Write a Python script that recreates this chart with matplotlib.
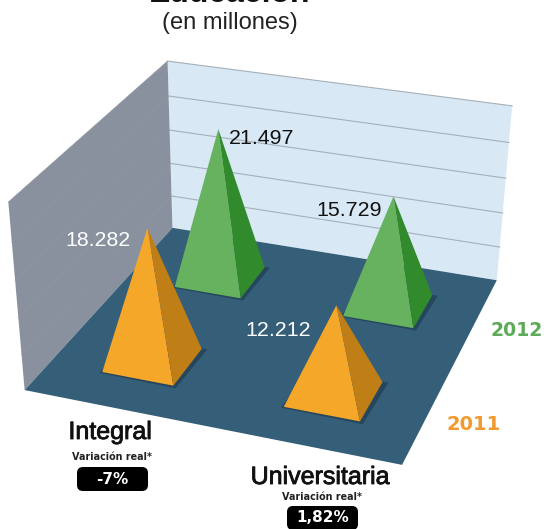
import numpy as np
import matplotlib
matplotlib.use('Agg')
import matplotlib.pyplot as plt
import matplotlib.patheffects as pe
from matplotlib.patches import Polygon, FancyBboxPatch

# datos
categorias = ['Integral', 'Universitaria']
anios = ['2011', '2012']
valores_2011 = [18.282, 12.212]
valores_2012 = [21.497, 15.729]
variacion = ['-7%', '1,82%']
ticks_eje = [5, 10, 15, 20]
tope_eje = 25

naranja, naranja_osc = '#F5A729', '#C07E17'
verde, verde_osc = '#66B25F', '#318A2C'

# correspondencia mundo (x, y, z) -> pixel de la imagen, para armar la camara
mundo = np.array([[0, 2, 0], [0, 0, 0], [2, 0, 0], [2, 2, 0],
                  [0, 2, tope_eje], [2, 2, tope_eje], [0, 0, tope_eje]], dtype=float)
pixel = np.array([[172, 228], [25, 390], [402, 465], [497, 280],
                  [168, 61], [512, 106], [8, 202]], dtype=float)


def camara(mundo, pixel):
    filas = []
    for (x, y, z), (u, v) in zip(mundo, pixel):
        filas.append([x, y, z, 1, 0, 0, 0, 0, -u * x, -u * y, -u * z, -u])
        filas.append([0, 0, 0, 0, x, y, z, 1, -v * x, -v * y, -v * z, -v])
    _, _, vt = np.linalg.svd(np.array(filas))
    return vt[-1].reshape(3, 4)


P = camara(mundo, pixel)


def proy(x, y, z=0):
    h = P @ np.array([x, y, z, 1.0])
    return h[0] / h[2], h[1] / h[2]


fig = plt.figure(figsize=(5.44, 5.29), dpi=100)
ax = fig.add_axes([0, 0, 1, 1])
ax.set_xlim(0, 544)
ax.set_ylim(529, 0)
ax.axis('off')


def poly(puntos, color, z=1):
    ax.add_patch(Polygon([proy(*p) for p in puntos], closed=True, facecolor=color,
                         edgecolor='none', zorder=z))


# paredes y piso
poly([(0, 2, 0), (2, 2, 0), (2, 2, tope_eje), (0, 2, tope_eje)], '#D8E8F5')
poly([(0, 0, 0), (0, 2, 0), (0, 2, tope_eje), (0, 0, tope_eje)], '#8A919E')
poly([(0, 0, 0), (2, 0, 0), (2, 2, 0), (0, 2, 0)], '#355F78', z=2)

for t in ticks_eje + [tope_eje]:
    x0, y0 = proy(0, 2, t)
    x1, y1 = proy(2, 2, t)
    ax.plot([x0, x1], [y0, y1], color='#A6B0B8', lw=0.8, zorder=1.5)
    x2, y2 = proy(0, 0, t)
    ax.plot([x2, x0], [y2, y0], color='#90969F', lw=0.5, zorder=1.5)


def piramide(cx, cy, alto, claro, oscuro, z, w=0.2):
    # sombra sobre el piso
    poly([(cx - w - 0.01, cy - w - 0.012, 0), (cx + w + 0.02, cy - w - 0.02, 0),
          (cx + w + 0.03, cy + w + 0.005, 0), (cx - w, cy + w, 0)], '#25465C', z=z - 0.5)
    tope = (cx, cy, alto)
    poly([(cx - w, cy - w, 0), (cx + w, cy - w, 0), tope], claro, z=z)
    poly([(cx + w, cy - w, 0), (cx + w, cy + w, 0), tope], oscuro, z=z)


# del fondo hacia el frente
piramide(0.5, 1.5, valores_2012[0], verde, verde_osc, 3)
piramide(1.5, 1.5, valores_2012[1], verde, verde_osc, 4)
piramide(0.5, 0.5, valores_2011[0], naranja, naranja_osc, 5)
piramide(1.5, 0.5, valores_2011[1], naranja, naranja_osc, 6)

sans = ['Liberation Sans', 'DejaVu Sans']


def num(v):
    return f'{v:.3f}'


# etiquetas de valores
ax.text(65, 241, num(valores_2011[0]), color='white', fontsize=15.4, family=sans, va='center', zorder=8)
ax.text(229, 138, num(valores_2012[0]), color='#111111', fontsize=15.4, family=sans, va='center', zorder=8)
ax.text(316, 211, num(valores_2012[1]), color='#111111', fontsize=15.4, family=sans, va='center', zorder=8)
ax.text(245, 331, num(valores_2011[1]), color='white', fontsize=15.4, family=sans, va='center', zorder=8)

# titulo, cortado arriba como en la imagen
ax.text(230, 2, 'Educación', color='#111111', fontsize=23, family=sans, weight='bold',
        ha='center', va='baseline', zorder=8)
ax.text(229.5, 23, '(en millones)', color='#222222', fontsize=17, family=sans,
        ha='center', va='center', zorder=8)

# anios
ax.text(491, 331, anios[1], color='#5DAA58', fontsize=13.6, family='DejaVu Sans', weight='bold', va='center')
ax.text(447, 425, anios[0], color='#F09A30', fontsize=14, family='DejaVu Sans', weight='bold', va='center')

# categorias con su variacion
centros = [(110, 432, 112.5, 457, 479), (320, 477, 322.5, 497, 518)]
for cat, var, (xc, y1, xv, y2, y3) in zip(categorias, variacion, centros):
    ax.text(xc, y1, cat, color='#111111', fontsize=18, family=sans, ha='center', va='center',
            path_effects=[pe.withStroke(linewidth=0.6, foreground='#111111')])
    ax.text(xv, y2, 'Variación real*', color='#222222', fontsize=6.9, family='DejaVu Sans',
            weight='bold', ha='center', va='center')
    ax.add_patch(FancyBboxPatch((xv - 35.5, y3 - 12), 71, 24,
                                boxstyle='round,pad=0,rounding_size=6',
                                facecolor='black', edgecolor='none'))
    ax.text(xv, y3, var, color='white', fontsize=11, family='DejaVu Sans', weight='bold',
            ha='center', va='center')

fig.savefig('out.png', dpi=100, facecolor='white')
